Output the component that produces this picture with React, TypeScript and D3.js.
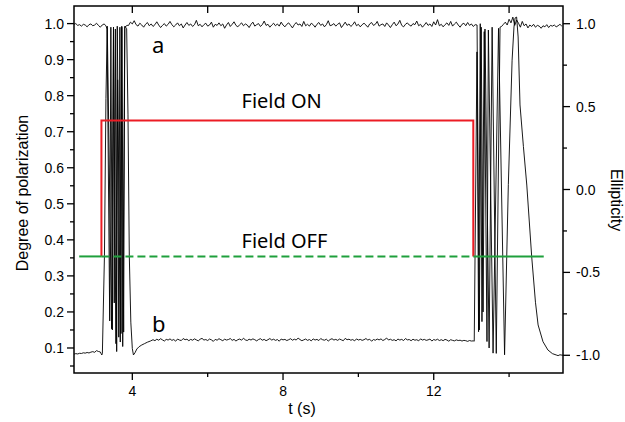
import React from "react";
import * as d3 from "d3";

const W = 625;
const H = 422;
const plot = { left: 74, top: 6, right: 563, bottom: 373 };

// tick values
const xMajorTicks = [4, 8, 12];
const xMinorTicks = [6, 10, 14];
const leftMajorTicks = [0.1, 0.2, 0.3, 0.4, 0.5, 0.6, 0.7, 0.8, 0.9, 1.0];
const leftMinorTicks = [0.05, 0.15, 0.25, 0.35, 0.45, 0.55, 0.65, 0.75, 0.85, 0.95];
const rightMajorTicks = [-1.0, -0.5, 0.0, 0.5, 1.0];
const rightMinorTicks = [-0.75, -0.25, 0.25, 0.75];

// sampling clock of the recorded traces (s)
const timeStep = 0.05;

// trace a: degree of polarization (left axis)
const aBefore = [0.998, 1.0, 0.995, 0.997, 0.993, 0.998, 0.996, 0.991, 0.997, 0.999, 0.994, 0.996, 1.001, 0.995, 0.99, 0.996, 0.999, 0.994];
const aSwitchOn = [[3.33, 0.985], [3.4, 0.175], [3.43, 0.99], [3.47, 0.15], [3.5, 0.985], [3.52, 0.225], [3.55, 0.985], [3.585, 0.09], [3.61, 0.844], [3.64, 0.13], [3.67, 0.99], [3.7, 0.14], [3.72, 0.99], [3.745, 0.104], [3.8, 0.99], [3.86, 0.995]];
const aDuring = [
  0.995, 1.004, 0.999, 1.008, 0.997, 0.993, 1.001, 0.996, 0.99, 0.998,
  1.003, 0.994, 0.999, 0.992, 0.997, 1.005, 0.996, 0.989, 0.995, 1.0,
  0.993, 0.998, 1.006, 0.997, 0.991, 0.996, 1.002, 0.994, 0.999, 0.988,
  0.996, 1.003, 0.995, 0.999, 0.992, 0.997, 1.009, 0.994, 0.998, 0.991,
  0.997, 1.001, 0.993, 0.996, 1.004, 0.99, 0.998, 0.995, 1.002, 0.994,
  0.999, 0.987, 0.996, 1.003, 0.992, 0.998, 1.005, 0.995, 0.991, 0.997,
  1.002, 0.994, 0.999, 0.996, 0.989, 0.998, 1.004, 0.993, 0.997, 1.0,
  0.992, 0.997, 1.007, 0.995, 0.998, 0.99, 0.996, 1.001, 0.994, 0.999,
  0.993, 1.004, 0.996, 0.991, 0.998, 1.002, 0.995, 0.988, 0.997, 1.003,
  0.996, 0.999, 0.992, 1.006, 0.994, 0.998, 0.993, 1.001, 0.997, 0.99,
  0.998, 1.003, 0.995, 0.999, 0.991, 0.997, 1.008, 0.994, 0.996, 1.0,
  0.993, 0.998, 1.002, 0.989, 0.996, 1.004, 0.995, 0.999, 0.992, 0.997,
  1.005, 0.994, 0.998, 0.991, 0.997, 1.001, 0.996, 0.99, 0.999, 1.003,
  0.995, 0.998, 1.006, 0.993, 0.997, 0.999, 0.992, 1.002, 0.996, 0.989,
  0.997, 1.004, 0.994, 0.999, 1.009, 0.995, 0.991, 0.998, 1.002, 0.996,
  0.993, 1.0, 0.997, 1.007, 0.994, 0.998, 0.99, 0.996, 1.003, 0.995,
  0.999, 0.992, 1.005, 0.996, 1.011, 0.994, 0.998, 0.991, 0.997, 1.002,
  0.995, 1.006, 0.993, 0.999, 1.004, 0.996, 0.99, 0.998, 1.001, 0.994,
  1.003, 0.995, 0.999, 0.992, 0.997, 0.996,
];
const aSwitchOff = [[13.21, 0.15], [13.26, 0.99], [13.31, 0.2], [13.36, 0.985], [13.47, 0.1], [13.55, 0.99], [13.66, 0.085], [13.76, 0.99]];
const aAfter = [
  0.992, 0.998, 1.004, 0.996, 1.012, 1.002, 1.018, 0.995, 1.01, 1.001,
  0.99, 1.006, 0.994, 0.999, 0.988, 0.996, 0.992, 0.998, 0.99, 0.995,
  0.993, 0.987, 0.994, 0.991, 0.997, 0.989, 0.995, 0.993, 0.996, 0.991,
  0.994, 0.998, 0.993,
];

// trace b: ellipticity (right axis)
const bBefore = [-0.993, -0.99, -0.992, -0.988, -0.989, -0.985, -0.987, -0.983, -0.986, -0.981, -0.978, -0.982, -0.972, -0.977, -0.98];
const bSwitchOn = [
  [3.19, -0.998], [3.205, -0.99], [3.26, -0.4], [3.3, 0.55], [3.335, 0.985], [3.45, -0.84], [3.5, 0.98],
  [3.565, -0.93], [3.6, 0.985], [3.68, -0.92], [3.72, 0.985], [3.77, -0.86], [3.8, 0.985], [3.85, 0.97],
  [3.885, 0.45], [3.92, -0.4], [3.96, -0.8], [4.0, -0.96], [4.03, -0.998], [4.07, -0.985], [4.12, -0.962],
  [4.18, -0.948], [4.25, -0.938], [4.32, -0.93], [4.4, -0.921], [4.48, -0.914],
];
const bDuring = [
  -0.906, -0.912, -0.903, -0.909, -0.9, -0.907, -0.914, -0.904, -0.908, -0.901,
  -0.91, -0.905, -0.915, -0.902, -0.908, -0.911, -0.899, -0.906, -0.903, -0.912,
  -0.904, -0.909, -0.901, -0.907, -0.913, -0.903, -0.898, -0.908, -0.905, -0.911,
  -0.902, -0.907, -0.916, -0.904, -0.909, -0.9, -0.906, -0.912, -0.903, -0.908,
  -0.905, -0.899, -0.91, -0.904, -0.914, -0.906, -0.902, -0.909, -0.897, -0.907,
  -0.911, -0.903, -0.908, -0.901, -0.906, -0.913, -0.905, -0.9, -0.909, -0.904,
  -0.912, -0.906, -0.899, -0.908, -0.903, -0.91, -0.905, -0.915, -0.902, -0.907,
  -0.904, -0.911, -0.906, -0.9, -0.909, -0.903, -0.908, -0.896, -0.905, -0.912,
  -0.907, -0.902, -0.91, -0.905, -0.913, -0.901, -0.908, -0.904, -0.911, -0.899,
  -0.906, -0.909, -0.903, -0.914, -0.905, -0.9, -0.908, -0.904, -0.91, -0.902,
  -0.907, -0.912, -0.898, -0.906, -0.903, -0.909, -0.905, -0.913, -0.901, -0.908,
  -0.904, -0.91, -0.906, -0.899, -0.908, -0.903, -0.915, -0.905, -0.909, -0.902,
  -0.907, -0.901, -0.911, -0.905, -0.896, -0.908, -0.903, -0.91, -0.906, -0.913,
  -0.902, -0.908, -0.904, -0.911, -0.899, -0.907, -0.905, -0.912, -0.903, -0.909,
  -0.906, -0.913, -0.901, -0.908, -0.904, -0.91, -0.907, -0.902, -0.914, -0.905,
  -0.909, -0.903, -0.911, -0.906, -0.912, -0.904, -0.908, -0.915, -0.906, -0.91,
  -0.913, -0.907, -0.911, -0.909, -0.914, -0.91, -0.912, -0.916, -0.911, -0.914,
  -0.913,
];
const bSwitchOff = [
  [13.075, -0.915], [13.148, 0.83], [13.19, -0.858], [13.235, 1.0], [13.28, -0.797], [13.34, 0.952],
  [13.413, -0.917], [13.45, 0.962], [13.575, -0.987], [13.72, 0.972], [13.88, -0.997], [13.98, 0.03],
  [14.08, 0.78], [14.13, 0.98], [14.16, 1.035], [14.2, 1.04], [14.24, 0.92], [14.29, 0.51], [14.38, 0.26],
  [14.47, 0.027], [14.6, -0.405], [14.7, -0.68], [14.77, -0.817], [14.9, -0.918], [15.03, -0.968],
  [15.15, -0.99], [15.25, -0.998], [15.3, -1.002], [15.35, -0.997], [15.43, -1.0],
];

// field markers (left axis)
const fieldOnPath = [[3.18, 0.354], [3.18, 0.731], [13.05, 0.731], [13.05, 0.354]];
const fieldOffSolid = [[[2.59, 0.354], [3.18, 0.354]], [[13.05, 0.354], [14.92, 0.354]]];
const fieldOffDashed = [[3.18, 0.354], [13.05, 0.354]];

const sampled = (t0: number, values: number[]) => values.map((v, i) => [t0 + i * timeStep, v]);

const traceA = [...sampled(2.45, aBefore), ...aSwitchOn, ...sampled(3.9, aDuring), ...aSwitchOff, ...sampled(13.8, aAfter)];
const traceB = [...sampled(2.45, bBefore), ...bSwitchOn, ...sampled(4.55, bDuring), ...bSwitchOff];

const x = d3.scaleLinear().domain([2.452, 15.431]).range([plot.left, plot.right]);
const yL = d3.scaleLinear().domain([0.0306, 1.0488]).range([plot.bottom, plot.top]);
const yR = d3.scaleLinear().domain([-1.1068, 1.1068]).range([plot.bottom, plot.top]);

const lineL = d3.line<number[]>().x((d) => x(d[0])).y((d) => yL(d[1]));
const lineR = d3.line<number[]>().x((d) => x(d[0])).y((d) => yR(d[1]));

const tickFont = "'Liberation Sans', Arial, sans-serif";
const noteFont = "'Noto Sans', sans-serif";

export default function App() {
  return (
    <div style={{ position: "absolute", left: 0, top: 0 }}>
      <svg width={W} height={H} style={{ display: "block", background: "#fff" }}>
        <defs>
          <clipPath id="plotClip">
            <rect x={plot.left} y={plot.top} width={plot.right - plot.left} height={plot.bottom - plot.top} />
          </clipPath>
        </defs>

        <g clipPath="url(#plotClip)">
          <path d={lineL(traceA) ?? ""} fill="none" stroke="#000" strokeWidth={0.9} />
          <path d={lineR(traceB) ?? ""} fill="none" stroke="#000" strokeWidth={0.9} />
          <path d={lineL(fieldOnPath) ?? ""} fill="none" stroke="#ec1c24" strokeWidth={2} />
          {fieldOffSolid.map((seg, i) => (
            <path key={i} d={lineL(seg) ?? ""} fill="none" stroke="#1fa03c" strokeWidth={2} />
          ))}
          <path d={lineL(fieldOffDashed) ?? ""} fill="none" stroke="#1fa03c" strokeWidth={2} strokeDasharray="8,4" />
        </g>

        {/* frame */}
        <rect x={plot.left} y={plot.top} width={plot.right - plot.left} height={plot.bottom - plot.top} fill="none" stroke="#000" strokeWidth={1.5} />

        {/* bottom axis */}
        {xMajorTicks.map((t) => (
          <g key={"xb" + t}>
            <line x1={x(t)} x2={x(t)} y1={plot.bottom} y2={plot.bottom + 7} stroke="#000" strokeWidth={1.3} />
            <text x={x(t)} y={396} textAnchor="middle" fontFamily={tickFont} fontSize={14}>{t}</text>
          </g>
        ))}
        {xMinorTicks.map((t) => (
          <line key={"xm" + t} x1={x(t)} x2={x(t)} y1={plot.bottom} y2={plot.bottom + 4} stroke="#000" strokeWidth={1.3} />
        ))}
        {/* top axis */}
        {[...xMajorTicks, ...xMinorTicks].map((t) => (
          <line key={"xt" + t} x1={x(t)} x2={x(t)} y1={plot.top} y2={plot.top + 7} stroke="#000" strokeWidth={1.3} />
        ))}

        {/* left axis */}
        {leftMajorTicks.map((v) => (
          <g key={"l" + v}>
            <line x1={plot.left - 7} x2={plot.left} y1={yL(v)} y2={yL(v)} stroke="#000" strokeWidth={1.3} />
            <text x={64} y={yL(v) + 5} textAnchor="end" fontFamily={tickFont} fontSize={14}>{d3.format(".1f")(v)}</text>
          </g>
        ))}
        {leftMinorTicks.map((v) => (
          <line key={"lm" + v} x1={plot.left - 4} x2={plot.left} y1={yL(v)} y2={yL(v)} stroke="#000" strokeWidth={1.3} />
        ))}

        {/* right axis */}
        {rightMajorTicks.map((v) => (
          <g key={"r" + v}>
            <line x1={plot.right} x2={plot.right + 7} y1={yR(v)} y2={yR(v)} stroke="#000" strokeWidth={1.3} />
            <text x={576} y={yR(v) + 5} textAnchor="start" fontFamily={tickFont} fontSize={14}>{d3.format(".1f")(v).replace("−", "-")}</text>
          </g>
        ))}
        {rightMinorTicks.map((v) => (
          <line key={"rm" + v} x1={plot.right} x2={plot.right + 4} y1={yR(v)} y2={yR(v)} stroke="#000" strokeWidth={1.3} />
        ))}

        {/* axis titles */}
        <text x={302} y={414} textAnchor="middle" fontFamily={tickFont} fontSize={16}>t (s)</text>
        <text transform="translate(28,193) rotate(-90)" textAnchor="middle" fontFamily={tickFont} fontSize={16}>Degree of polarization</text>
        <text transform="translate(611,200) rotate(90)" textAnchor="middle" fontFamily={tickFont} fontSize={16}>Ellipticity</text>

        {/* annotations */}
        <text x={241.5} y={108} fontFamily={noteFont} fontSize={20}>Field ON</text>
        <text x={241.5} y={248} fontFamily={noteFont} fontSize={20}>Field OFF</text>
        <text x={152} y={53} fontFamily={noteFont} fontSize={22}>a</text>
        <text x={152} y={332} fontFamily={noteFont} fontSize={22}>b</text>
      </svg>
    </div>
  );
}
